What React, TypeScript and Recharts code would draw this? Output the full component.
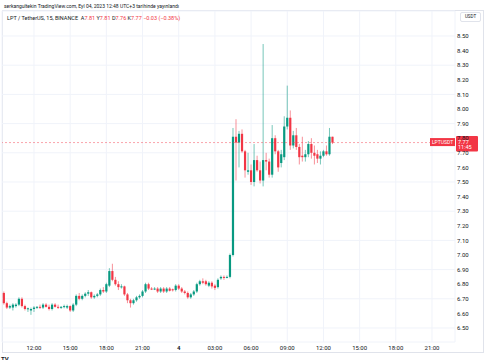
import React from 'react'
import {
    ComposedChart,
    Bar,
    XAxis,
    YAxis,
    CartesianGrid,
    ReferenceLine,
} from 'recharts'

// 15-minute slots counted from Sep 3, 00:00 (slot 48 = 12:00, slot 96 = Sep 4 00:00)
const FIRST_SLOT = 38

const OPEN = [
    6.74, 6.67, 6.64, 6.64, 6.65, 6.66, 6.70, 6.65, 6.63, 6.62,
    6.63, 6.64, 6.645, 6.64, 6.66, 6.645, 6.63, 6.66, 6.645, 6.64,
    6.645, 6.64, 6.65, 6.62, 6.66, 6.72, 6.70, 6.72, 6.735, 6.745,
    6.71, 6.72, 6.73, 6.76, 6.75, 6.79, 6.89, 6.83, 6.80, 6.78,
    6.785, 6.73, 6.69, 6.67, 6.69, 6.71, 6.72, 6.75, 6.80, 6.77,
    6.765, 6.77, 6.75, 6.77, 6.75, 6.77, 6.765, 6.76, 6.79, 6.77,
    6.75, 6.74, 6.71, 6.73, 6.75, 6.80, 6.82, 6.82, 6.79, 6.81,
    6.79, 6.78, 6.84, 6.85, 6.845, 6.85, 7.00, 7.81, 7.77, 7.83,
    7.71, 7.57, 7.58, 7.50, 7.65, 7.58, 7.51, 7.65, 7.64, 7.55,
    7.80, 7.71, 7.63, 7.67, 7.88, 7.94, 7.75, 7.82, 7.74, 7.68,
    7.67, 7.69, 7.76, 7.70, 7.69, 7.66, 7.68, 7.71, 7.69, 7.81,
]
const HIGH = [
    6.75, 6.68, 6.66, 6.67, 6.67, 6.71, 6.71, 6.66, 6.64, 6.64,
    6.65, 6.65, 6.66, 6.67, 6.67, 6.66, 6.67, 6.67, 6.66, 6.65,
    6.66, 6.66, 6.655, 6.67, 6.73, 6.74, 6.73, 6.745, 6.76, 6.75,
    6.73, 6.74, 6.77, 6.78, 6.81, 6.91, 6.94, 6.85, 6.82, 6.80,
    6.79, 6.74, 6.70, 6.70, 6.72, 6.73, 6.76, 6.81, 6.81, 6.78,
    6.78, 6.78, 6.78, 6.78, 6.78, 6.78, 6.77, 6.80, 6.80, 6.78,
    6.76, 6.75, 6.74, 6.76, 6.81, 6.83, 6.84, 6.83, 6.82, 6.82,
    6.80, 6.84, 6.86, 6.86, 6.86, 7.01, 7.87, 7.93, 7.85, 7.86,
    7.72, 7.70, 7.62, 7.76, 7.68, 7.64, 8.445, 7.70, 7.66, 7.89,
    7.82, 7.72, 7.72, 7.95, 8.16, 7.99, 7.85, 7.87, 7.76, 7.81,
    7.72, 7.78, 7.80, 7.75, 7.72, 7.71, 7.72, 7.75, 7.87, 7.81,
]
const LOW = [
    6.66, 6.63, 6.63, 6.62, 6.64, 6.65, 6.64, 6.62, 6.61, 6.59,
    6.61, 6.63, 6.63, 6.63, 6.64, 6.62, 6.62, 6.64, 6.63, 6.63,
    6.635, 6.63, 6.61, 6.61, 6.65, 6.69, 6.69, 6.71, 6.72, 6.70,
    6.70, 6.71, 6.72, 6.74, 6.74, 6.78, 6.82, 6.79, 6.76, 6.77,
    6.72, 6.67, 6.64, 6.66, 6.68, 6.70, 6.71, 6.74, 6.76, 6.76,
    6.76, 6.74, 6.74, 6.74, 6.74, 6.75, 6.75, 6.75, 6.76, 6.74,
    6.73, 6.70, 6.70, 6.72, 6.74, 6.79, 6.80, 6.79, 6.78, 6.77,
    6.76, 6.77, 6.83, 6.83, 6.84, 6.84, 6.99, 7.51, 7.60, 7.70,
    7.53, 7.55, 7.48, 7.47, 7.57, 7.49, 7.47, 7.58, 7.53, 7.53,
    7.69, 7.57, 7.60, 7.65, 7.86, 7.72, 7.73, 7.72, 7.62, 7.64,
    7.64, 7.67, 7.66, 7.62, 7.63, 7.62, 7.67, 7.68, 7.68, 7.76,
]
const CLOSE = [
    6.67, 6.64, 6.65, 6.66, 6.66, 6.70, 6.65, 6.63, 6.635, 6.63,
    6.64, 6.645, 6.64, 6.66, 6.645, 6.63, 6.66, 6.645, 6.64, 6.645,
    6.65, 6.65, 6.62, 6.66, 6.72, 6.70, 6.72, 6.735, 6.745, 6.71,
    6.72, 6.73, 6.76, 6.75, 6.80, 6.89, 6.83, 6.80, 6.78, 6.785,
    6.73, 6.69, 6.67, 6.69, 6.71, 6.72, 6.75, 6.80, 6.77, 6.765,
    6.77, 6.75, 6.77, 6.75, 6.77, 6.755, 6.76, 6.79, 6.77, 6.75,
    6.74, 6.71, 6.73, 6.75, 6.80, 6.82, 6.81, 6.80, 6.81, 6.785,
    6.775, 6.83, 6.85, 6.845, 6.85, 7.00, 7.81, 7.77, 7.83, 7.71,
    7.58, 7.58, 7.50, 7.65, 7.58, 7.51, 7.65, 7.64, 7.55, 7.80,
    7.71, 7.60, 7.69, 7.88, 7.94, 7.75, 7.82, 7.74, 7.67, 7.67,
    7.69, 7.76, 7.70, 7.68, 7.66, 7.68, 7.71, 7.69, 7.81, 7.77,
]

const TIME_TICKS = [48, 60, 72, 84, 96, 108, 120, 132, 144, 156, 168, 180]
const TIME_LABELS = ['12:00', '15:00', '18:00', '21:00', '4', '03:00', '06:00', '09:00', '12:00', '15:00', '18:00', '21:00']
const PRICE_TICKS = [6.5, 6.6, 6.7, 6.8, 6.9, 7.0, 7.1, 7.2, 7.3, 7.4, 7.5, 7.6, 7.7, 7.8, 7.9, 8.0, 8.1, 8.2, 8.3, 8.4, 8.5]

const LAST_CLOSE = 7.77
const UP = '#089981'
const DOWN = '#f23645'
const TEXT = '#131722'

const candles = OPEN.map((o, i) => ({
    slot: FIRST_SLOT + i,
    open: o,
    high: HIGH[i],
    low: LOW[i],
    close: CLOSE[i],
    range: [LOW[i], HIGH[i]],
}))

const Candle = (props: any) => {
    const { x, y, width, height, payload } = props
    if (!payload) return null
    const { open, close, high, low } = payload
    const top = Math.min(y, y + height)
    const h = Math.abs(height)
    const span = high - low
    const k = span > 0 ? h / span : 0
    const yOf = (v: number) => top + (high - v) * k
    const color = close >= open ? UP : DOWN
    const cx = x + width / 2
    const bTop = yOf(Math.max(open, close))
    const bH = Math.max(1, yOf(Math.min(open, close)) - bTop)
    return (
        <g>
            <line x1={cx} x2={cx} y1={yOf(high)} y2={yOf(low)} stroke={color} strokeOpacity={0.55} strokeWidth={1} />
            <rect x={cx - 1.1} y={bTop} width={2.2} height={bH} fill={color} />
        </g>
    )
}

const TimeTick = (props: any) => {
    const { x, y, payload } = props
    const i = TIME_TICKS.indexOf(payload.value)
    const label = TIME_LABELS[i] ?? ''
    return (
        <text x={x} y={y} dy="0.71em" textAnchor="middle" fontSize={6} fill={TEXT} fontWeight={label === '4' ? 700 : 400}>
            {label}
        </text>
    )
}

const PriceTag = (props: any) => {
    const vb = props.viewBox
    if (!vb) return null
    const right = vb.x + vb.width
    const cy = vb.y
    return (
        <g>
            <rect x={right - 25} y={cy - 4.5} width={25} height={8} fill={DOWN} />
            <text x={right - 12.5} y={cy + 1.6} textAnchor="middle" fontSize={5} fill="#fff">LPTUSDT</text>
            <rect x={right + 1} y={cy - 6.5} width={22} height={15.5} rx={1} fill={DOWN} />
            <text x={right + 3} y={cy + 1} fontSize={5.5} fill="#fff">{LAST_CLOSE.toFixed(2)}</text>
            <text x={right + 3} y={cy + 6.5} fontSize={5.5} fill="#fff">11:45</text>
        </g>
    )
}

const App = () => {
    return (
        <div
            style={{
                position: 'relative',
                width: 485,
                height: 360,
                overflow: 'hidden',
                background: '#fff',
                fontFamily: 'Roboto, "Noto Sans", sans-serif',
            }}
        >
            <style>{'body{margin:0}'}</style>
            <div style={{ position: 'absolute', left: 4, top: 2, fontSize: 5, lineHeight: '8px', color: TEXT, whiteSpace: 'nowrap' }}>
                serkangultekin TradingView.com, Eyl 04, 2023 12:48 UTC+3 tarihinde yayınlandı
            </div>
            <div
                style={{
                    position: 'absolute',
                    left: 2,
                    top: 10,
                    width: 482,
                    height: 343,
                    border: '1px solid #e0e3eb',
                    boxSizing: 'border-box',
                }}
            />
            <div style={{ position: 'absolute', left: 0, top: 0 }}>
                <ComposedChart
                    width={485}
                    height={360}
                    data={candles}
                    margin={{ top: 11, right: 0, bottom: 0, left: 2 }}
                >
                    <CartesianGrid stroke="#f0f3fa" strokeWidth={1} />
                    <XAxis
                        dataKey="slot"
                        type="number"
                        domain={[37.39, 187.63]}
                        allowDataOverflow
                        ticks={TIME_TICKS}
                        tick={<TimeTick />}
                        height={18}
                        axisLine={false}
                        tickLine={false}
                        tickSize={0}
                        tickMargin={4}
                    />
                    <YAxis
                        orientation="right"
                        type="number"
                        domain={[6.4041, 8.6712]}
                        allowDataOverflow
                        ticks={PRICE_TICKS}
                        tickFormatter={(v: number) => v.toFixed(2)}
                        width={30}
                        axisLine={false}
                        tickLine={false}
                        tickSize={0}
                        tickMargin={2}
                        tick={{ fontSize: 6, fill: TEXT, textAnchor: 'start' }}
                    />
                    <ReferenceLine
                        y={LAST_CLOSE}
                        stroke={DOWN}
                        strokeOpacity={0.45}
                        strokeDasharray="2 2"
                        label={<PriceTag />}
                    />
                    <Bar dataKey="range" barSize={3} shape={<Candle />} isAnimationActive={false} />
                </ComposedChart>
            </div>
            <div style={{ position: 'absolute', left: 7, top: 14, fontSize: 5.5, lineHeight: '8px', color: TEXT, whiteSpace: 'nowrap' }}>
                LPT / TetherUS, 15, BINANCE&nbsp;&nbsp;A<span style={{ color: DOWN }}>7.81</span> Y
                <span style={{ color: DOWN }}>7.81</span> D<span style={{ color: DOWN }}>7.76</span> K
                <span style={{ color: DOWN }}>7.77</span> <span style={{ color: DOWN }}>−0.03 (−0.38%)</span>
            </div>
            <div
                style={{
                    position: 'absolute',
                    left: 460,
                    top: 12,
                    width: 21,
                    height: 10,
                    border: '1px solid #e0e3eb',
                    borderRadius: 2,
                    boxSizing: 'border-box',
                    fontSize: 4.5,
                    lineHeight: '8px',
                    textAlign: 'center',
                    color: TEXT,
                    background: '#fff',
                }}
            >
                USDT
            </div>
            <div style={{ position: 'absolute', left: 1, top: 355, fontSize: 6, fontWeight: 700, color: TEXT, lineHeight: '8px' }}>
                TV
            </div>
        </div>
    )
}

export default App
